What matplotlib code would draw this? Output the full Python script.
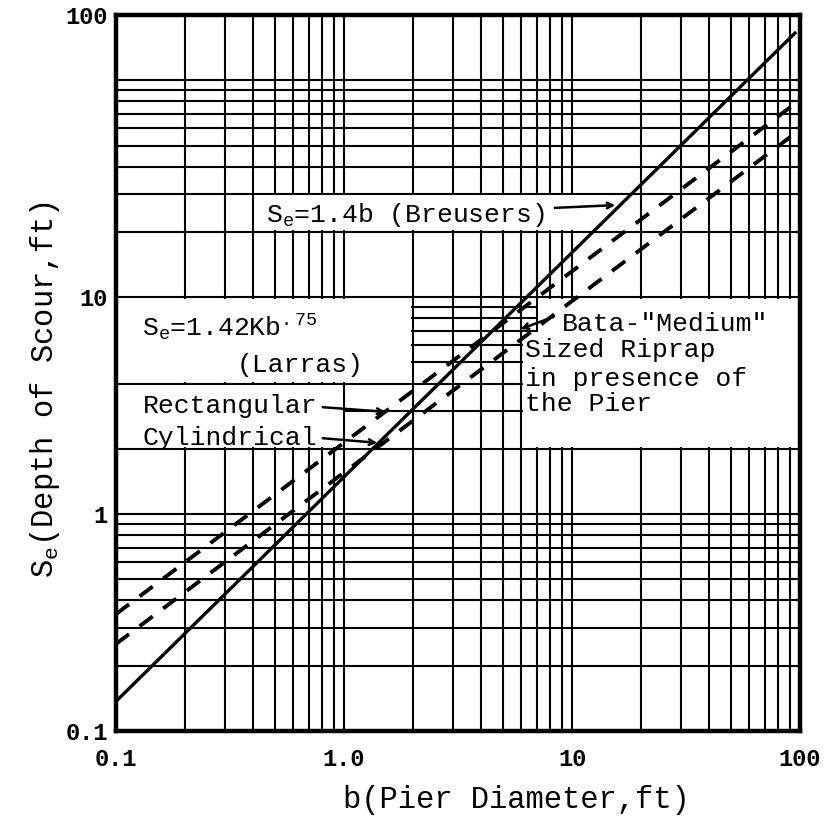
import numpy as np
import matplotlib
matplotlib.use('Agg')
import matplotlib.pyplot as plt
from matplotlib.patches import Rectangle
from matplotlib.ticker import LogLocator, NullFormatter

plt.rcParams['font.family'] = ['Liberation Mono', 'DejaVu Sans Mono']
plt.rcParams['mathtext.fontset'] = 'custom'
plt.rcParams['mathtext.rm'] = 'Liberation Mono'
plt.rcParams['mathtext.it'] = 'Liberation Mono'

# pier diameter b (ft) against scour depth Se (ft)
b_breusers = [0.1, 95]
se_breusers = [0.137, 165]

# Larras, rectangular pier (upper dashed) and cylindrical pier (lower dashed)
b_rect = [0.1, 93]
se_rect = [0.346, 76.7]
b_cyl = [0.1, 93]
se_cyl = [0.252, 55.9]

x_ticks = [0.1, 1, 10, 100]
x_labels = ['0.1', '1.0', '10', '100']
y_ticks = [0.1, 1, 10, 100, 200]
y_labels = ['0.1', '1', '10', '', '100']

fig = plt.figure(figsize=(8.39, 8.26), dpi=100)
ax = fig.add_axes([116 / 839, 95 / 826, 684 / 839, 716 / 826])
ax.set_xscale('log')
ax.set_yscale('log')
ax.set_xlim(0.1, 100)
ax.set_ylim(0.1, 200)

ax.set_xticks(x_ticks)
ax.set_xticklabels(x_labels, fontweight='bold')
ax.set_yticks(y_ticks)
ax.set_yticklabels(y_labels, fontweight='bold')
ax.xaxis.set_minor_locator(LogLocator(base=10, subs=np.arange(2, 10)))
ax.yaxis.set_minor_locator(LogLocator(base=10, subs=np.arange(2, 10)))
ax.xaxis.set_minor_formatter(NullFormatter())
ax.yaxis.set_minor_formatter(NullFormatter())

ax.set_axisbelow(True)
ax.grid(True, which='both', color='black', lw=1.5)
ax.tick_params(which='both', length=0)
ax.tick_params(axis='x', pad=12, labelsize=17)
ax.tick_params(axis='y', pad=6, labelsize=17)
for s in ax.spines.values():
    s.set_linewidth(3.2)

# white label panels pasted over the grid
k = 1.015
panels = [(0.4, 20, 14, 30), (0.1, 4, 2, 10), (0.1, 2, 1, 4),
          (6, 2, 100, 7), (7, 2, 100, 10)]
for x0, y0, x1, y1 in panels:
    ax.add_patch(Rectangle((x0 * k, y0 * k), x1 / k - x0 * k, y1 / k - y0 * k,
                           facecolor='white', edgecolor='none', zorder=1))

ax.plot(b_breusers, se_breusers, color='black', lw=2.4, zorder=3)
ax.plot(b_rect, se_rect, color='black', lw=2.8, dashes=(4.2, 3.4), zorder=3)
ax.plot(b_cyl, se_cyl, color='black', lw=2.8, dashes=(4.2, 3.4), zorder=3)


def px(x, y):
    return ((x - 116) / 684, (731 - y) / 716)


fs = 19
tkw = dict(transform=ax.transAxes, fontsize=fs, va='baseline', ha='left', zorder=4)
ax.text(*px(266, 222), 'S$_e$=1.4b (Breusers)', **tkw)
ax.text(*px(142, 337), 'S$_e$=1.42Kb$^{.75}$', **tkw)
ax.text(*px(237, 372), '(Larras)', **tkw)
ax.text(*px(143, 413), 'Rectangular', **tkw)
ax.text(*px(143, 445), 'Cylindrical', **tkw)
ax.text(*px(562, 331), 'Bata-"Medium"', **tkw)
ax.text(*px(525, 357), 'Sized Riprap', **tkw)
ax.text(*px(525, 386), 'in presence of', **tkw)
ax.text(*px(525, 411), 'the Pier', **tkw)

akw = dict(xycoords='axes fraction', textcoords='axes fraction',
           arrowprops=dict(arrowstyle='->', lw=1.8, color='black'), zorder=4)
ax.annotate('', xy=px(618, 205), xytext=px(552, 208), **akw)
ax.annotate('', xy=px(388, 412), xytext=px(320, 407), **akw)
ax.annotate('', xy=px(380, 443), xytext=px(320, 438), **akw)
ax.annotate('', xy=px(518, 330), xytext=px(556, 316), **akw)

ax.text(*px(516, 800), 'b(Pier Diameter,ft)', transform=ax.transAxes,
        fontsize=22, ha='center', va='center')
ax.text(*px(45, 390), 'S$_e$(Depth of Scour,ft)', transform=ax.transAxes,
        fontsize=22, ha='center', va='center', rotation=90)

fig.savefig('out.png', dpi=100, facecolor='white')
